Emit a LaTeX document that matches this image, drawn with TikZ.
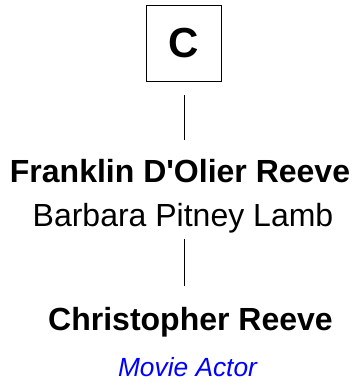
\documentclass[tikz,border=0pt]{standalone}
\usepackage{fontspec}
\setmainfont{Liberation Sans}[Ligatures=TeXOff]
\begin{document}
\begin{tikzpicture}[x=1pt,y=-1pt,
  every node/.style={inner sep=0pt,outer sep=0pt,anchor=base},
  namebold/.style={font=\fontsize{32}{36}\selectfont\bfseries},
  nameplain/.style={font=\fontsize{32}{36}\selectfont},
  occup/.style={font=\fontsize{26.3}{30}\selectfont\itshape,text=blue},
  conn/.style={draw=black,line width=1pt}]
\useasboundingbox (0,0) rectangle (355,385);
\node[draw=black,line width=1.1pt,minimum width=75pt,minimum height=76pt,anchor=center,
      font=\fontsize{42}{48}\selectfont\bfseries] (box) at (184,43.5) {C};
\node[namebold] (f) at (180,182.3) {Franklin D'Olier Reeve};
\node[nameplain] (b) at (183,226) {Barbara Pitney Lamb};
\node[namebold] (c) at (190.5,330) {Christopher Reeve};
\node[occup] (m) at (187.5,376.7) {Movie Actor};
\draw[conn,shorten <=14pt,shorten >=18.8pt] (box.south) -- (box.south |- f.north);
\draw[conn,shorten <=6.3pt,shorten >=21.2pt] (box.south |- b.south) -- (box.south |- c.north);
\end{tikzpicture}
\end{document}
